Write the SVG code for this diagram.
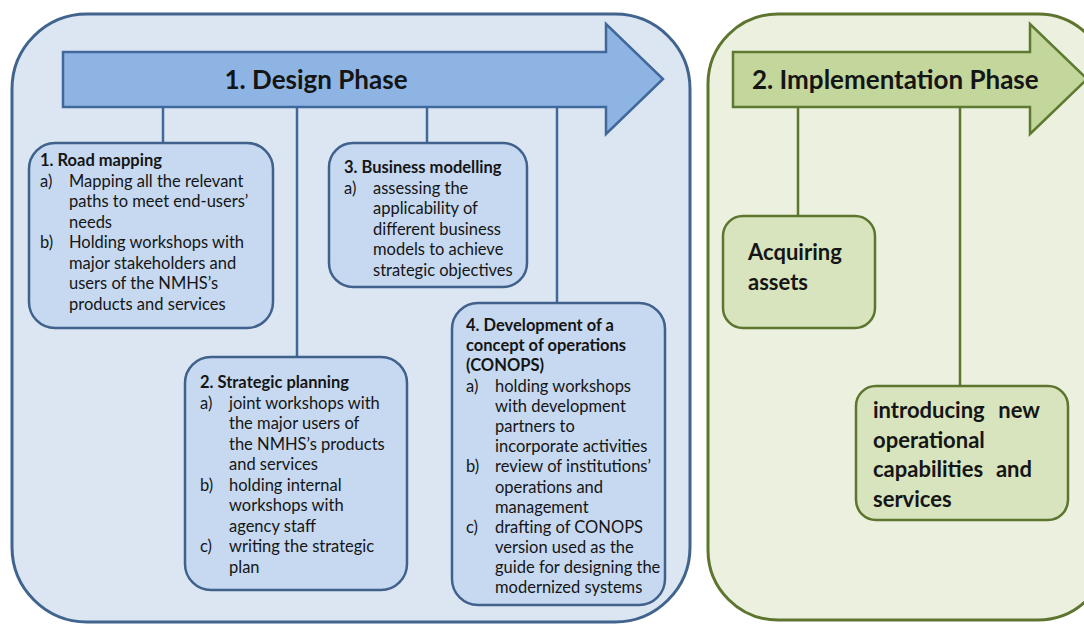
<svg xmlns="http://www.w3.org/2000/svg" width="1084" height="626" viewBox="0 0 1084 626">
<style>
.t{font-family:Lato,"Open Sans","Liberation Sans",sans-serif;font-size:16.5px;fill:#151515}
.b{font-weight:bold}
.h{font-family:Lato,"Open Sans","Liberation Sans",sans-serif;font-weight:bold;font-size:26px;fill:#151515}
.g{font-family:Lato,"Open Sans","Liberation Sans",sans-serif;font-weight:bold;font-size:22px;fill:#151515}
.pb{fill:#dce6f2;stroke:#41648f;stroke-width:3}
.bb{fill:#c6d9f1;stroke:#3f618c;stroke-width:2.5}
.ab{fill:#8eb4e3;stroke:#41689b;stroke-width:2.5}
.pg{fill:#ebf1de;stroke:#5e7530;stroke-width:3}
.bg{fill:#d7e4bd;stroke:#5e7530;stroke-width:2.5}
.ag{fill:#c3d69b;stroke:#5e7a30;stroke-width:2.5}
.cb{stroke:#41689b;stroke-width:2.5;fill:none}
.cg{stroke:#5e7530;stroke-width:2.5;fill:none}
</style>
<rect width="1084" height="626" fill="#ffffff"/>
<g id="design-panel">
<rect class="pb" x="12" y="14" width="678" height="608" rx="75" ry="75"/>
</g>
<g id="implementation-panel">
<rect class="pg" x="708" y="14" width="400" height="606" rx="70" ry="70"/>
</g>
<g id="connectors">
<line class="cb" x1="163" y1="107" x2="163" y2="143"/>
<line class="cb" x1="297" y1="107" x2="297" y2="357"/>
<line class="cb" x1="427" y1="107" x2="427" y2="143"/>
<line class="cb" x1="557" y1="107" x2="557" y2="303"/>
<line class="cg" x1="798" y1="107" x2="798" y2="216"/>
<line class="cg" x1="960" y1="107" x2="960" y2="386"/>
</g>
<g id="design-arrow">
<polygon class="ab" points="63,52 606,52 606,24 663,79 606,134 606,107 63,107"/>
<text class="h" x="316" y="89" text-anchor="middle">1. Design Phase</text>
</g>
<g id="implementation-arrow">
<polygon class="ag" points="733,52 1030,52 1030,24 1087,79 1030,134 1030,107 733,107"/>
<text class="h" x="752" y="89">2. Implementation Phase</text>
</g>
<g id="road-mapping">
<rect class="bb" x="29" y="143" width="244" height="185" rx="26" ry="26"/>
<text class="t b" x="40" y="166">1. Road mapping</text>
<text class="t" x="40" y="187">a)</text><text class="t" x="69" y="187">Mapping all the relevant</text>
<text class="t" x="69" y="207">paths to meet end-users’</text>
<text class="t" x="69" y="228">needs</text>
<text class="t" x="40" y="248">b)</text><text class="t" x="69" y="248">Holding workshops with</text>
<text class="t" x="69" y="269">major stakeholders and</text>
<text class="t" x="69" y="289">users of the NMHS’s</text>
<text class="t" x="69" y="310">products and services</text>
</g>
<g id="strategic-planning">
<rect class="bb" x="185" y="357" width="222" height="233" rx="26" ry="26"/>
<text class="t b" x="200" y="388">2. Strategic planning</text>
<text class="t" x="200" y="409">a)</text><text class="t" x="229" y="409">joint workshops with</text>
<text class="t" x="229" y="429">the major users of</text>
<text class="t" x="229" y="450">the NMHS’s products</text>
<text class="t" x="229" y="470">and services</text>
<text class="t" x="200" y="491">b)</text><text class="t" x="229" y="491">holding internal</text>
<text class="t" x="229" y="511">workshops with</text>
<text class="t" x="229" y="532">agency staff</text>
<text class="t" x="200" y="552">c)</text><text class="t" x="229" y="552">writing the strategic</text>
<text class="t" x="229" y="573">plan</text>
</g>
<g id="business-modelling">
<rect class="bb" x="329" y="143" width="198" height="144" rx="24" ry="24"/>
<text class="t b" x="344" y="173">3. Business modelling</text>
<text class="t" x="344" y="194">a)</text><text class="t" x="373" y="194">assessing the</text>
<text class="t" x="373" y="214">applicability of</text>
<text class="t" x="373" y="235">different business</text>
<text class="t" x="373" y="255">models to achieve</text>
<text class="t" x="373" y="276">strategic objectives</text>
</g>
<g id="conops">
<rect class="bb" x="452" y="303" width="213" height="302" rx="26" ry="26"/>
<text class="t b" x="466" y="331">4. Development of a</text>
<text class="t b" x="466" y="351">concept of operations</text>
<text class="t b" x="466" y="371">(CONOPS)</text>
<text class="t" x="466" y="392">a)</text><text class="t" x="495" y="392">holding workshops</text>
<text class="t" x="495" y="412">with development</text>
<text class="t" x="495" y="432">partners to</text>
<text class="t" x="495" y="452">incorporate activities</text>
<text class="t" x="466" y="472">b)</text><text class="t" x="495" y="472">review of institutions’</text>
<text class="t" x="495" y="493">operations and</text>
<text class="t" x="495" y="513">management</text>
<text class="t" x="466" y="533">c)</text><text class="t" x="495" y="533">drafting of CONOPS</text>
<text class="t" x="495" y="553">version used as the</text>
<text class="t" x="495" y="573">guide for designing the</text>
<text class="t" x="495" y="593">modernized systems</text>
</g>
<g id="acquiring-assets">
<rect class="bg" x="723" y="216" width="152" height="112" rx="20" ry="20"/>
<text class="g" x="748" y="260">Acquiring</text>
<text class="g" x="748" y="290">assets</text>
</g>
<g id="new-capabilities">
<rect class="bg" x="856" y="386" width="212" height="134" rx="20" ry="20"/>
<text class="g" x="873" y="418">introducing</text><text class="g" x="1040" y="418" text-anchor="end">new</text>
<text class="g" x="873" y="448">operational</text>
<text class="g" x="873" y="477">capabilities</text><text class="g" x="1032" y="477" text-anchor="end">and</text>
<text class="g" x="873" y="507">services</text>
</g>
</svg>
